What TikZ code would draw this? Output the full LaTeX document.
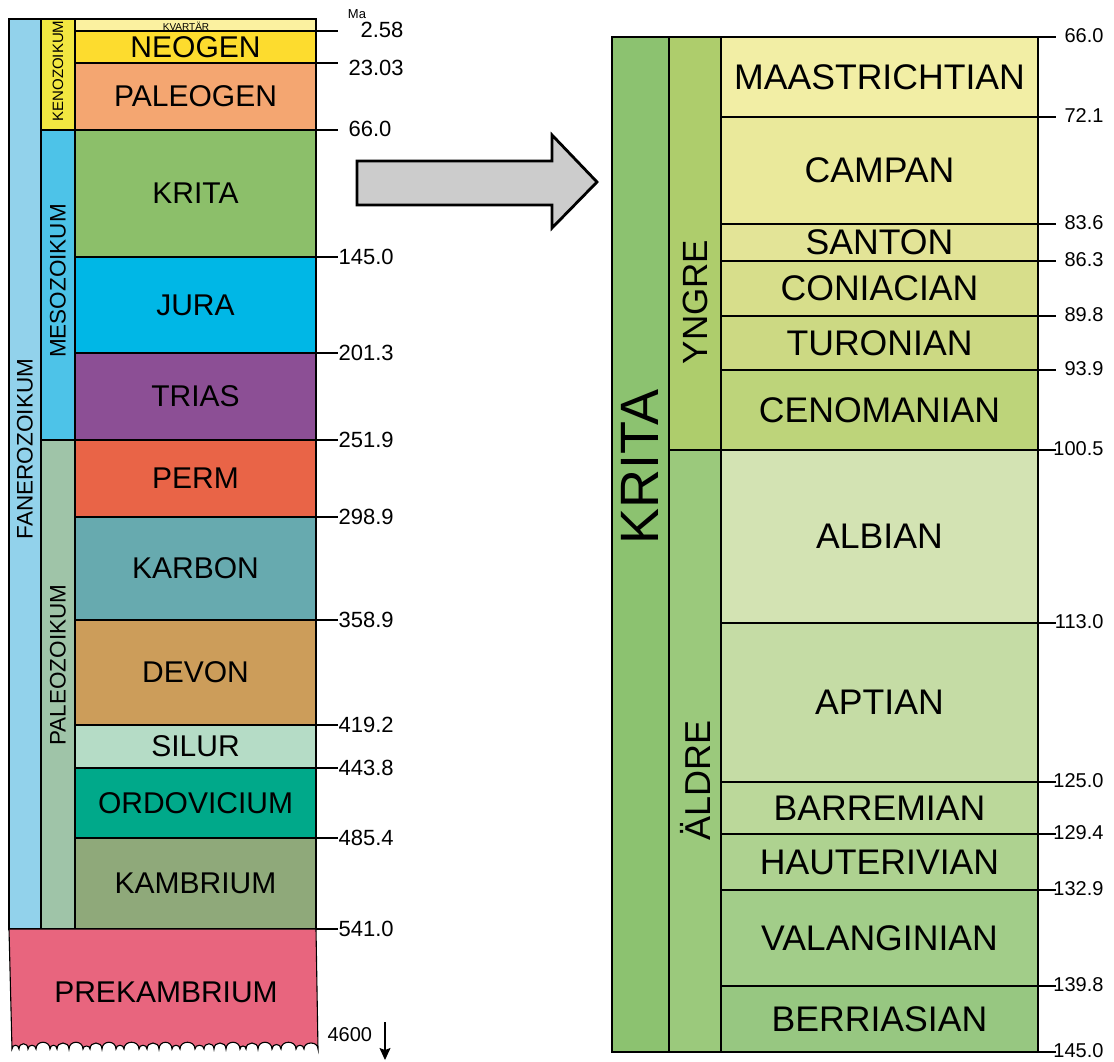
\documentclass[tikz,border=0pt]{standalone}
\usepackage{fontspec}
\setmainfont{Liberation Sans}
\usetikzlibrary{positioning,arrows.meta}
\definecolor{kvartar}{HTML}{FBF1A0}
\definecolor{neogen}{HTML}{FDDC2E}
\definecolor{paleogen}{HTML}{F4A671}
\definecolor{krita}{HTML}{8CBF6A}
\definecolor{jura}{HTML}{00B7E6}
\definecolor{trias}{HTML}{8C4F95}
\definecolor{perm}{HTML}{E96447}
\definecolor{karbon}{HTML}{67AAAF}
\definecolor{devon}{HTML}{CC9D5A}
\definecolor{silur}{HTML}{B5DCC6}
\definecolor{ordovicium}{HTML}{00A98A}
\definecolor{kambrium}{HTML}{8FA97A}
\definecolor{prekambrium}{HTML}{E8657E}
\definecolor{fanerozoikum}{HTML}{92D2EB}
\definecolor{kenozoikum}{HTML}{F2E741}
\definecolor{mesozoikum}{HTML}{4DC3E8}
\definecolor{paleozoikum}{HTML}{9FC4A8}
\definecolor{kritacol}{HTML}{8CC270}
\definecolor{yngre}{HTML}{AECD6C}
\definecolor{aldre}{HTML}{9BC97C}
\definecolor{maastricht}{HTML}{F2EEA5}
\definecolor{campan}{HTML}{EAE99B}
\definecolor{santon}{HTML}{E3E497}
\definecolor{coniac}{HTML}{D7DE8B}
\definecolor{turon}{HTML}{CCD983}
\definecolor{cenoman}{HTML}{BDD47A}
\definecolor{alb}{HTML}{D3E3B3}
\definecolor{apt}{HTML}{C5DCA5}
\definecolor{barrem}{HTML}{BBD89A}
\definecolor{hauteriv}{HTML}{AED290}
\definecolor{valangin}{HTML}{A2CD89}
\definecolor{berrias}{HTML}{97C781}
\definecolor{pilgra}{HTML}{CCCCCC}
\newcommand{\periode}[5]{\draw[fill=#4] (75,#2) rectangle (316,#3);
					\node[periodtext] (#1) at (195.5,{(#2+#3)/2}) {#5};}
\newcommand{\etage}[5]{\draw[fill=#4] (721,#2) rectangle (1038,#3);
					\node[etagetext] (#1) at (879.5,{(#2+#3)/2}) {#5};}
\begin{document}
\begin{tikzpicture}[x=1pt,y=-1pt,line width=1.1pt,
	periodtext/.style={font=\fontsize{30}{31}\selectfont},
	etagetext/.style={font=\fontsize{35.6}{36}\selectfont},
	eratext/.style={rotate=90,font=\fontsize{22.5}{23}\selectfont},
	leftnum/.style={font=\fontsize{22}{22}\selectfont,inner sep=0pt},
	rightnum/.style={font=\fontsize{20}{20}\selectfont,inner sep=0pt,anchor=east}]

	\useasboundingbox (0,0) rectangle (1114,1061);

					\draw[fill=fanerozoikum] (9,19) rectangle (41,929);
					\draw[fill=kenozoikum] (41,19) rectangle (75,130);
					\draw[fill=mesozoikum] (41,130) rectangle (75,440);
					\draw[fill=paleozoikum] (41,440) rectangle (75,929);

					\draw[fill=kvartar] (75,19) rectangle (316,31);
					\node[font=\fontsize{10}{10}\selectfont,inner sep=0pt] (kvartar) at (186,26) {KVARTÄR};
					\periode{neogen}{31}{63}{neogen}{NEOGEN}
					\periode{paleogen}{63}{130}{paleogen}{PALEOGEN}
					\periode{krita}{130}{257}{krita}{KRITA}
					\periode{jura}{257}{353}{jura}{JURA}
					\periode{trias}{353}{440}{trias}{TRIAS}
					\periode{perm}{440}{517}{perm}{PERM}
					\periode{karbon}{517}{620}{karbon}{KARBON}
					\periode{devon}{620}{725}{devon}{DEVON}
					\periode{silur}{725}{768}{silur}{SILUR}
					\periode{ordovicium}{768}{838}{ordovicium}{ORDOVICIUM}
					\periode{kambrium}{838}{929}{kambrium}{KAMBRIUM}

					\filldraw[fill=prekambrium] (9,929) -- (316,929) -- (318,1049)
						\foreach \a/\b/\h in {318/304/8, 304/296/5, 296/281/9, 281/272/6, 272/258/9, 258/246/8,
							246/240/4, 240/226/9, 226/214/8, 214/204/7, 204/195/5, 195/180/9, 180/172/5,
							172/159/9, 159/147/8, 147/139/5, 139/124/9, 124/116/5, 116/102/9, 102/90/8,
							90/83/4, 83/69/9, 69/57/8, 57/50/5, 50/36/9, 36/28/5, 28/19/7, 19/12/5}
						{ .. controls (\a,{1049-\h}) and (\b,{1049-\h}) .. (\b,1049) } -- cycle;
					\node[periodtext] (prekambrium) at (166,992) {PREKAMBRIUM};

					\node[eratext] (fanerozoikum) at (25,449) {FANEROZOIKUM};
					\node[eratext,font=\fontsize{15}{15}\selectfont] (kenozoikum) at (58,71) {KENOZOIKUM};
					\node[eratext] (mesozoikum) at (58,281) {MESOZOIKUM};
					\node[eratext] (paleozoikum) at (58,665) {PALEOZOIKUM};

					\draw (316,31) -- (338,31);
					\draw (316,63) -- (338,63);
					\draw (316,130) -- (338,130);
					\node[font=\fontsize{13}{13}\selectfont,inner sep=0pt] (ma) at (357,14) {Ma};
					\node[leftnum,anchor=west] (ma2) at (360,30) {2.58};
					\node[leftnum,anchor=west] (ma23) at (348,68) {23.03};
					\node[leftnum,anchor=west] (ma66) at (348,129) {66.0};
					\foreach \y/\t in {257/145.0, 353/201.3, 440/251.9, 517/298.9, 620/358.9,
						725/419.2, 768/443.8, 838/485.4, 929/541.0}
					{
						\draw (316,\y) -- (338,\y);
						\node[leftnum,anchor=west] (ma\y) at (338,\y) {\t};
					}
					\node[leftnum,font=\fontsize{20}{20}\selectfont,anchor=west] (ma4600) at (327,1035) {4600};
					\coordinate (pilstart) at (385,1022);
					\coordinate (pilslut) at (385,1060);
					\draw[-{Stealth[length=12pt,width=11pt,inset=2pt]}] (pilstart) -- (pilslut);

					\draw[line width=2.8pt,fill=pilgra] (357,161) -- (552,161) -- (552,135) -- (597,182)
						-- (552,228) -- (552,205) -- (357,205) -- cycle;

					\draw[fill=kritacol] (612,37) rectangle (669,1052);
					\draw[fill=yngre] (669,37) rectangle (721,450);
					\draw[fill=aldre] (669,450) rectangle (721,1052);

					\etage{maastricht}{37}{117}{maastricht}{MAASTRICHTIAN}
					\etage{campan}{117}{224}{campan}{CAMPAN}
					\etage{santon}{224}{261}{santon}{SANTON}
					\etage{coniac}{261}{316}{coniac}{CONIACIAN}
					\etage{turon}{316}{370}{turon}{TURONIAN}
					\etage{cenoman}{370}{450}{cenoman}{CENOMANIAN}
					\etage{alb}{450}{623}{alb}{ALBIAN}
					\etage{apt}{623}{782}{apt}{APTIAN}
					\etage{barrem}{782}{834}{barrem}{BARREMIAN}
					\etage{hauteriv}{834}{890}{hauteriv}{HAUTERIVIAN}
					\etage{valangin}{890}{986}{valangin}{VALANGINIAN}
					\etage{berrias}{986}{1052}{berrias}{BERRIASIAN}

					\node[rotate=90,font=\fontsize{54}{54}\selectfont] (kritaord) at (640,467) {KRITA};
					\node[rotate=90,font=\fontsize{35}{35}\selectfont] (yngreord) at (695,302) {YNGRE};
					\node[rotate=90,font=\fontsize{36}{36}\selectfont] (aldreord) at (695,780) {ÄLDRE};

					\foreach \y/\t in {37/66.0, 117/72.1, 224/83.6, 261/86.3, 316/89.8, 370/93.9,
						450/100.5, 623/113.0, 782/125.0, 834/129.4, 890/132.9, 986/139.8, 1052/145.0}
					{
						\draw (1038,\y) -- (1056,\y);
						\node[rightnum] (r\y) at (1104,\y-1) {\t};
					}

				\end{tikzpicture}
\end{document}
